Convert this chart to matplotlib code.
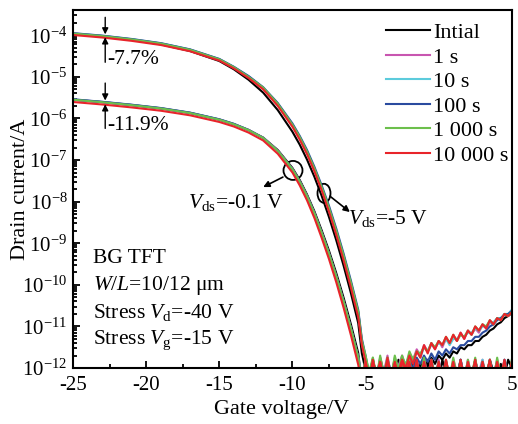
import numpy as np
import matplotlib
matplotlib.use("Agg")
import matplotlib.pyplot as plt
import matplotlib.transforms as mtransforms
from matplotlib.patches import Ellipse
from matplotlib.ticker import MultipleLocator, LogLocator, NullFormatter

plt.rcParams['font.family'] = ['Liberation Serif', 'DejaVu Serif']
plt.rcParams['mathtext.fontset'] = 'custom'
plt.rcParams['mathtext.rm'] = 'Liberation Serif'
plt.rcParams['mathtext.it'] = 'Liberation Serif:italic'
plt.rcParams['axes.unicode_minus'] = False

labels = ['Intial', '1 s', '10 s', '100 s', '1 000 s', '10 000 s']
colors = ['#000000', '#c855b0', '#5ccbdc', '#2a4b9f', '#6cbf4c', '#e8242a']

# gate voltage, on/subthreshold part
vg_on = [-25, -23, -21, -19, -17, -15, -14, -13, -12, -11, -10, -9.5, -9,
         -8.5, -8, -7.5, -7, -6.5, -6, -5.5]
# gate voltage, off part (noise floor)
vg_off = [-5.25, -5.0, -4.75, -4.5, -4.25, -4.0, -3.75, -3.5, -3.25, -3.0,
          -2.75, -2.5, -2.25, -2.0, -1.75, -1.5, -1.25, -1.0, -0.75, -0.5,
          -0.25, 0.0, 0.25, 0.5, 0.75, 1.0, 1.25, 1.5, 1.75, 2.0, 2.25, 2.5,
          2.75, 3.0, 3.25, 3.5, 3.75, 4.0, 4.25, 4.5, 4.75, 5.0]

# log10(Id), Vds = -5 V
hi_on = [
    [-3.97, -4.03, -4.11, -4.22, -4.38, -4.62, -4.82, -5.07, -5.38, -5.80, -6.32, -6.63, -6.99, -7.40, -7.86, -8.37, -8.93, -9.54, -10.20, -10.92],
    [-3.96, -4.02, -4.10, -4.20, -4.35, -4.58, -4.77, -5.00, -5.27, -5.66, -6.16, -6.46, -6.81, -7.21, -7.66, -8.16, -8.71, -9.31, -9.96, -10.66],
    [-3.955, -4.015, -4.095, -4.195, -4.345, -4.575, -4.765, -4.99, -5.26, -5.65, -6.15, -6.45, -6.80, -7.20, -7.65, -8.15, -8.70, -9.30, -9.95, -10.65],
    [-3.95, -4.01, -4.09, -4.19, -4.34, -4.57, -4.76, -4.98, -5.25, -5.63, -6.12, -6.42, -6.76, -7.16, -7.61, -8.10, -8.65, -9.25, -9.90, -10.60],
    [-3.96, -4.02, -4.10, -4.20, -4.35, -4.58, -4.77, -5.00, -5.26, -5.65, -6.15, -6.45, -6.80, -7.20, -7.65, -8.15, -8.70, -9.30, -9.95, -10.65],
    [-3.995, -4.055, -4.135, -4.235, -4.385, -4.61, -4.80, -5.03, -5.30, -5.70, -6.20, -6.51, -6.86, -7.27, -7.73, -8.24, -8.80, -9.41, -10.07, -10.78],
]
hi_off = [
    [-11.65, -12.05, -12.4, -12.0, -12.3, -11.85, -12.2, -11.9, -12.3, -11.85, -12.2, -11.9, -12.1, -11.85, -12.2, -11.9, -12.0, -11.8, -11.95, -11.75, -11.9, -11.7, -11.8, -11.65, -11.75, -11.6, -11.65, -11.5, -11.55, -11.45, -11.45, -11.35, -11.35, -11.25, -11.2, -11.1, -11.05, -10.95, -10.9, -10.8, -10.75, -10.68],
    [-11.35, -11.75, -12.2, -11.8, -12.3, -11.75, -12.1, -11.7, -12.2, -11.8, -11.95, -11.7, -12.0, -11.65, -11.8, -11.55, -11.7, -11.45, -11.6, -11.4, -11.55, -11.35, -11.5, -11.3, -11.4, -11.25, -11.35, -11.15, -11.3, -11.1, -11.2, -11.05, -11.15, -10.95, -11.05, -10.9, -10.95, -10.8, -10.85, -10.7, -10.75, -10.62],
    [-11.4, -11.8, -12.15, -11.9, -12.25, -11.8, -12.2, -11.75, -12.15, -11.85, -12.0, -11.75, -11.9, -11.7, -11.85, -11.6, -11.75, -11.5, -11.6, -11.45, -11.5, -11.4, -11.45, -11.3, -11.45, -11.3, -11.3, -11.2, -11.25, -11.15, -11.15, -11.05, -11.1, -11.0, -11.0, -10.9, -10.9, -10.8, -10.8, -10.7, -10.7, -10.6],
    [-11.3, -11.7, -12.15, -11.8, -12.2, -11.8, -12.1, -11.85, -12.2, -11.8, -12.1, -11.85, -12.0, -11.8, -12.05, -11.75, -11.9, -11.7, -11.85, -11.65, -11.8, -11.6, -11.7, -11.55, -11.65, -11.5, -11.55, -11.45, -11.45, -11.35, -11.35, -11.25, -11.25, -11.15, -11.1, -11.0, -10.95, -10.85, -10.8, -10.72, -10.7, -10.63],
    [-11.35, -11.7, -12.1, -11.75, -12.25, -11.7, -12.15, -11.75, -12.25, -11.7, -12.05, -11.7, -11.95, -11.6, -11.8, -11.6, -11.65, -11.5, -11.6, -11.4, -11.5, -11.35, -11.45, -11.25, -11.4, -11.2, -11.35, -11.2, -11.25, -11.1, -11.2, -11.0, -11.1, -10.95, -11.0, -10.85, -10.95, -10.8, -10.85, -10.7, -10.75, -10.65],
    [-11.45, -11.85, -12.25, -11.9, -12.3, -11.85, -12.25, -11.8, -12.2, -11.9, -12.1, -11.8, -12.0, -11.7, -11.9, -11.6, -11.75, -11.45, -11.65, -11.4, -11.55, -11.35, -11.45, -11.25, -11.4, -11.2, -11.35, -11.15, -11.3, -11.1, -11.2, -11.0, -11.1, -10.95, -11.05, -10.85, -10.95, -10.8, -10.85, -10.7, -10.75, -10.66],
]

# log10(Id), Vds = -0.1 V
lo_on = [
    [-5.55, -5.61, -5.68, -5.76, -5.87, -6.03, -6.14, -6.28, -6.46, -6.76, -7.19, -7.48, -7.83, -8.23, -8.69, -9.18, -9.72, -10.31, -10.95, -11.64],
    [-5.545, -5.605, -5.675, -5.755, -5.865, -6.025, -6.135, -6.275, -6.465, -6.77, -7.21, -7.51, -7.86, -8.27, -8.74, -9.24, -9.79, -10.39, -11.04, -11.74],
    [-5.545, -5.605, -5.675, -5.755, -5.865, -6.025, -6.135, -6.28, -6.47, -6.78, -7.22, -7.52, -7.87, -8.28, -8.75, -9.25, -9.80, -10.40, -11.05, -11.75],
    [-5.54, -5.60, -5.67, -5.75, -5.86, -6.02, -6.13, -6.275, -6.47, -6.78, -7.22, -7.52, -7.87, -8.28, -8.75, -9.25, -9.80, -10.40, -11.05, -11.75],
    [-5.55, -5.61, -5.68, -5.76, -5.87, -6.03, -6.14, -6.28, -6.47, -6.78, -7.22, -7.52, -7.87, -8.28, -8.75, -9.25, -9.80, -10.40, -11.05, -11.75],
    [-5.605, -5.665, -5.735, -5.815, -5.925, -6.085, -6.195, -6.34, -6.53, -6.85, -7.30, -7.61, -7.97, -8.39, -8.87, -9.38, -9.94, -10.55, -11.21, -11.92],
]
lo_off = [
    [-12.4, -11.9, -12.3, -11.8, -12.2, -11.9, -12.3, -11.8, -12.1, -12.4, -11.8, -12.2, -11.9, -12.3, -11.75, -12.2, -11.9, -12.3, -11.8, -12.2, -12.0, -12.4, -11.8, -12.1, -12.3, -11.9, -12.2, -11.8, -12.3, -12.0, -12.2, -11.8, -12.3, -11.9, -12.2, -11.8, -12.1, -12.3, -11.9, -12.2, -11.8, -12.0],
    [-12.3, -11.8, -12.2, -11.9, -12.4, -11.75, -12.1, -11.9, -12.3, -11.8, -12.2, -11.85, -12.3, -11.8, -12.1, -11.9, -12.4, -11.75, -12.2, -11.9, -12.3, -11.8, -12.2, -11.95, -12.3, -11.8, -12.1, -11.9, -12.3, -11.8, -12.2, -11.85, -12.1, -11.8, -12.3, -11.9, -12.2, -11.8, -12.3, -11.85, -12.1, -11.9],
    [-12.2, -11.9, -12.35, -11.85, -12.2, -11.8, -12.3, -11.9, -12.2, -11.85, -12.35, -11.8, -12.15, -11.9, -12.3, -11.8, -12.2, -11.9, -12.35, -11.8, -12.2, -11.9, -12.3, -11.85, -12.15, -11.9, -12.35, -11.8, -12.2, -11.85, -12.3, -11.9, -12.2, -11.8, -12.3, -11.85, -12.2, -11.9, -12.25, -11.8, -12.2, -11.9],
    [-12.35, -11.85, -12.2, -11.8, -12.3, -11.9, -12.25, -11.8, -12.35, -11.9, -12.2, -11.8, -12.3, -11.85, -12.2, -11.8, -12.3, -11.9, -12.2, -11.8, -12.35, -11.85, -12.2, -11.8, -12.3, -11.85, -12.25, -11.8, -12.2, -11.9, -12.35, -11.8, -12.2, -11.85, -12.3, -11.8, -12.2, -11.85, -12.3, -11.8, -12.2, -11.85],
    [-12.3, -11.8, -12.25, -11.75, -12.2, -11.85, -12.35, -11.8, -12.2, -11.75, -12.3, -11.85, -12.2, -11.8, -12.35, -11.85, -12.2, -11.75, -12.3, -11.8, -12.2, -11.85, -12.3, -11.8, -12.25, -11.75, -12.2, -11.85, -12.3, -11.8, -12.2, -11.75, -12.3, -11.85, -12.2, -11.8, -12.3, -11.75, -12.2, -11.85, -12.3, -11.8],
    [-12.4, -11.85, -12.3, -11.8, -12.2, -11.85, -12.3, -11.75, -12.25, -11.85, -12.3, -11.8, -12.2, -11.85, -12.3, -11.8, -12.25, -11.85, -12.2, -11.8, -12.3, -11.85, -12.25, -11.8, -12.2, -11.85, -12.3, -11.8, -12.25, -11.85, -12.2, -11.8, -12.3, -11.85, -12.2, -11.8, -12.25, -11.85, -12.2, -11.8, -12.3, -11.85],
]

fig = plt.figure(figsize=(5.18, 4.24), dpi=100)
ax = fig.add_axes([0.141, 0.132, 0.847, 0.844])

vg = vg_on + vg_off
for i in range(6):
    ax.plot(vg, 10 ** np.array(hi_on[i] + hi_off[i]), color=colors[i], lw=1.5, label=labels[i])
    ax.plot(vg, 10 ** np.array(lo_on[i] + lo_off[i]), color=colors[i], lw=1.5)

ax.set_yscale('log')
ax.set_xlim(-25, 5)
ax.set_ylim(1e-12, 4e-4)
ax.xaxis.set_major_locator(MultipleLocator(5))
ax.xaxis.set_minor_locator(MultipleLocator(2.5))
ax.yaxis.set_major_locator(LogLocator(base=10, numticks=20))
ax.yaxis.set_minor_locator(LogLocator(base=10, subs=np.arange(2, 10), numticks=20))
ax.yaxis.set_minor_formatter(NullFormatter())
ax.tick_params(which='both', direction='in', labelsize=15, top=False, right=False, width=1.3)
ax.tick_params(which='major', length=5)
ax.tick_params(which='minor', length=3)
ax.tick_params(axis='x', pad=6)
ax.tick_params(axis='y', pad=4)
for s in ax.spines.values():
    s.set_linewidth(1.5)

ax.set_xlabel('Gate voltage/V', fontsize=16)
ax.set_ylabel('Drain current/A', fontsize=16)
ax.xaxis.set_label_coords(0.476, -0.088)
ax.yaxis.set_label_coords(-0.097, 0.5)

ax.legend(loc='upper right', bbox_to_anchor=(0.997, 0.972), frameon=False, fontsize=16,
          handlelength=1.95, handletextpad=0.14, labelspacing=0.18,
          borderpad=0.1, borderaxespad=0.0)

# percentage arrows
ap = dict(arrowstyle='-|>', color='k', lw=1, mutation_scale=9, shrinkA=0, shrinkB=0)
ax.annotate('', xy=(-22.8, 10 ** -3.98), xytext=(-22.8, 10 ** -3.57), arrowprops=ap)
ax.annotate('', xy=(-22.8, 10 ** -4.05), xytext=(-22.8, 10 ** -4.65), arrowprops=ap)
ax.annotate('', xy=(-22.8, 10 ** -5.57), xytext=(-22.8, 10 ** -5.15), arrowprops=ap)
ax.annotate('', xy=(-22.8, 10 ** -5.66), xytext=(-22.8, 10 ** -6.24), arrowprops=ap)
ax.text(-22.65, 10 ** -4.58, '-7.7%', fontsize=15.5, va='center', ha='left')
ax.text(-22.65, 10 ** -6.16, '-11.9%', fontsize=15.5, va='center', ha='left')

# circles marking the two curve groups
for (cx, cy, w, h) in [(-9.96, -7.25, 0.19, 0.19), (-7.84, -7.80, 0.13, 0.19)]:
    tr = fig.dpi_scale_trans + mtransforms.ScaledTranslation(cx, 10 ** cy, ax.transData)
    ax.add_patch(Ellipse((0, 0), w, h, transform=tr, fill=False, ec='k', lw=1.3))

ap2 = dict(arrowstyle='-|>', color='k', lw=1.2, mutation_scale=9, shrinkA=0, shrinkB=0)
ax.annotate('', xy=(-12.0, 10 ** -7.65), xytext=(-10.65, 10 ** -7.41), arrowprops=ap2)
ax.annotate('', xy=(-6.07, 10 ** -8.25), xytext=(-7.43, 10 ** -7.87), arrowprops=ap2)
ax.text(-17.14, 10 ** -8.01, r'$V_{\rm ds}$=-0.1 V', fontsize=15.5, va='center', ha='left')
ax.text(-6.2, 10 ** -8.40, r'$V_{\rm ds}$=-5 V', fontsize=15.5, va='center', ha='left')

# device info
ax.text(0.046, 0.307, 'BG TFT', transform=ax.transAxes, fontsize=15.5, va='center')
ax.text(0.046, 0.232, r'$W/L$=10/12 μm', transform=ax.transAxes, fontsize=15.5, va='center')
ax.text(0.046, 0.154, r'Stress $V_{\rm d}$=-40 V', transform=ax.transAxes, fontsize=15.5, va='center')
ax.text(0.046, 0.078, r'Stress $V_{\rm g}$=-15 V', transform=ax.transAxes, fontsize=15.5, va='center')

fig.savefig('out.png', dpi=100)
